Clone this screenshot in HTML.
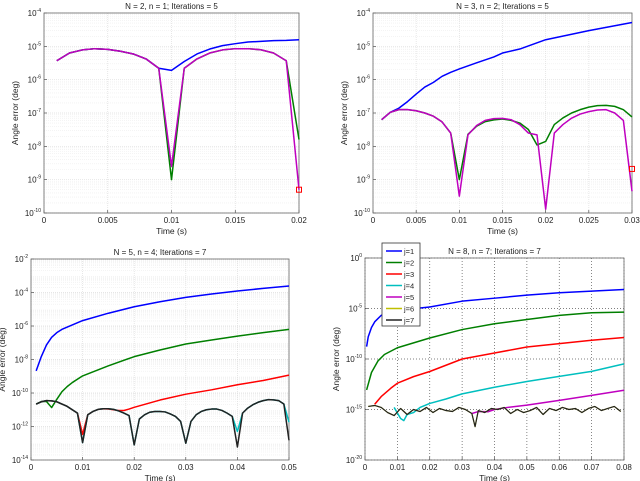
<!DOCTYPE html>
<html><head><meta charset="utf-8">
<style>
html,body{margin:0;padding:0;background:#fff;}
svg{display:block;font-family:"Liberation Sans",sans-serif;}
</style></head>
<body>
<svg id="chart" width="640" height="481" viewBox="0 0 640 481" xmlns="http://www.w3.org/2000/svg"></svg>
<script>
// ---------- Plot 1 data (N=2) ----------
const p1Times = [0.001,0.002,0.003,0.004,0.005,0.006,0.007,0.008,0.009,0.010,0.011,0.012,0.013,0.014,0.015,0.016,0.017,0.018,0.019,0.020];
const p1Blue = [3.7e-6,6.3e-6,7.8e-6,8.5e-6,8.1e-6,7.1e-6,5.9e-6,4.2e-6,2.2e-6,1.9e-6,3.5e-6,5.9e-6,8.3e-6,1.05e-5,1.2e-5,1.35e-5,1.41e-5,1.48e-5,1.51e-5,1.58e-5];
const p1Green = [3.7e-6,6.3e-6,7.8e-6,8.5e-6,8.1e-6,7.1e-6,5.9e-6,4.2e-6,2.2e-6,1.0e-9,2.2e-6,4.2e-6,6.3e-6,7.8e-6,8.5e-6,8.5e-6,7.9e-6,6.3e-6,3.7e-6,1.6e-8];
const p1Magenta = [3.7e-6,6.3e-6,7.8e-6,8.5e-6,8.1e-6,7.1e-6,5.9e-6,4.2e-6,2.2e-6,2.5e-9,2.2e-6,4.2e-6,6.3e-6,7.8e-6,8.5e-6,8.5e-6,7.9e-6,6.3e-6,3.7e-6,5.0e-10];
const p1Marker = [0.02, 5.0e-10];

// ---------- Plot 2 data (N=3) ----------
const p2BlueTimes = [0.001,0.002,0.003,0.004,0.005,0.006,0.007,0.008,0.009,0.010,0.012,0.014,0.015,0.017,0.020,0.025,0.030];
const p2Blue = [6.3e-8,1.05e-7,1.4e-7,2.2e-7,3.7e-7,6.0e-7,8.3e-7,1.26e-6,1.66e-6,2.1e-6,3.2e-6,4.8e-6,6.3e-6,8.3e-6,1.58e-5,2.95e-5,5.2e-5];
const p2Times = [0.001,0.002,0.003,0.004,0.005,0.006,0.007,0.008,0.009,0.010,0.011,0.012,0.013,0.014,0.015,0.016,0.017,0.018,0.019,0.020,0.021,0.022,0.023,0.024,0.025,0.026,0.027,0.028,0.029,0.030];
const p2Green = [6.3e-8,1.05e-7,1.26e-7,1.26e-7,1.17e-7,1.0e-7,8.0e-8,5.4e-8,2.5e-8,1.0e-9,2.3e-8,4.0e-8,5.5e-8,6.2e-8,6.6e-8,6.0e-8,5.0e-8,3.2e-8,1.1e-8,1.4e-8,4.5e-8,7.1e-8,1.0e-7,1.26e-7,1.5e-7,1.66e-7,1.7e-7,1.58e-7,1.26e-7,7.6e-8];
const p2Magenta = [6.3e-8,1.05e-7,1.26e-7,1.26e-7,1.17e-7,1.0e-7,8.0e-8,5.4e-8,2.5e-8,3.2e-10,2.2e-8,4.2e-8,6.0e-8,6.8e-8,6.9e-8,6.3e-8,4.5e-8,2.5e-8,2.2e-8,1.3e-10,2.5e-8,4.5e-8,7.0e-8,9.3e-8,1.1e-7,1.23e-7,1.26e-7,1.0e-7,6.0e-8,4.5e-10];
const p2Marker = [0.03, 2.1e-9];

// ---------- Plot 3 data (N=5) ----------
const p3BlueTimes = [0.001,0.002,0.003,0.004,0.005,0.006,0.008,0.010,0.015,0.020,0.025,0.030,0.035,0.040,0.045,0.050];
const p3Blue = [2.1e-9,1.5e-8,7.4e-8,2.1e-7,4.0e-7,6.3e-7,1.15e-6,2.1e-6,5.8e-6,1.41e-5,2.8e-5,5.1e-5,8.1e-5,1.22e-4,1.77e-4,2.45e-4];
const p3GreenTimes = [0.001,0.002,0.003,0.004,0.005,0.006,0.007,0.008,0.010,0.015,0.020,0.025,0.030,0.035,0.040,0.045,0.050];
const p3Green = [2.2e-11,3.1e-11,3.1e-11,1.35e-11,4.2e-11,1.2e-10,2.4e-10,4.2e-10,1.05e-9,4.2e-9,1.48e-8,3.7e-8,8.4e-8,1.46e-7,2.5e-7,4.0e-7,6.3e-7];
const p3Times = [0.001,0.002,0.003,0.004,0.005,0.006,0.007,0.008,0.009,0.010,0.011,0.012,0.013,0.014,0.015,0.016,0.017,0.018,0.019,0.020,0.021,0.022,0.023,0.024,0.025,0.026,0.027,0.028,0.029,0.030,0.031,0.032,0.033,0.034,0.035,0.036,0.037,0.038,0.039,0.040,0.041,0.042,0.043,0.044,0.045,0.046,0.047,0.048,0.049,0.050];
const p3Black = [2.2e-11,3.0e-11,3.5e-11,3.4e-11,3.0e-11,2.2e-11,1.6e-11,1.0e-11,6.3e-12,1.1e-13,5.0e-12,7.9e-12,1.05e-11,1.15e-11,1.15e-11,1.05e-11,8.5e-12,6.3e-12,4.5e-12,8.0e-14,2.8e-12,5.0e-12,7.1e-12,7.9e-12,7.9e-12,7.4e-12,5.6e-12,4.0e-12,2.0e-12,1.0e-13,2.0e-12,5.0e-12,7.9e-12,1.0e-11,1.1e-11,1.1e-11,9.1e-12,6.3e-12,4.0e-12,6.0e-14,6.3e-12,1.26e-11,2.0e-11,2.8e-11,3.5e-11,4.0e-11,3.9e-11,3.5e-11,2.2e-11,1.5e-13];
const p3Cyan = [2.2e-11,3.0e-11,3.5e-11,3.4e-11,3.0e-11,2.2e-11,1.6e-11,1.0e-11,6.3e-12,1.1e-13,5.0e-12,7.9e-12,1.05e-11,1.15e-11,1.15e-11,1.05e-11,8.5e-12,6.3e-12,4.5e-12,8.0e-14,2.8e-12,5.0e-12,7.1e-12,7.9e-12,7.9e-12,7.4e-12,5.6e-12,4.0e-12,2.0e-12,1.0e-13,2.0e-12,5.0e-12,7.9e-12,1.0e-11,1.1e-11,1.1e-11,9.1e-12,6.3e-12,4.0e-12,5.0e-13,6.3e-12,1.26e-11,2.0e-11,2.8e-11,3.5e-11,4.0e-11,3.9e-11,3.5e-11,2.2e-11,1.8e-12];
const p3RedTimes = [0.001,0.002,0.003,0.004,0.005,0.006,0.007,0.008,0.009,0.010,0.011,0.012,0.013,0.014,0.015,0.017,0.018,0.019,0.020,0.025,0.030,0.035,0.040,0.045,0.050];
const p3Red = [2.2e-11,3.0e-11,3.5e-11,3.4e-11,3.0e-11,2.2e-11,1.6e-11,1.0e-11,6.3e-12,3.4e-13,5.0e-12,7.9e-12,1.05e-11,1.15e-11,1.1e-11,9.0e-12,9.0e-12,1.1e-11,1.4e-11,3.8e-11,8.5e-11,1.55e-10,3.1e-10,5.6e-10,1.17e-9];

// ---------- Plot 4 data (N=8) ----------
const p4Labels = ['j=1','j=2','j=3','j=4','j=5','j=6','j=7'];
const p4BlueTimes = [0.0005,0.001,0.002,0.003,0.005,0.010,0.020,0.030,0.040,0.050,0.060,0.070,0.080];
const p4Blue = [1.7e-9,1.6e-8,1.3e-7,4.8e-7,2.1e-6,6.5e-6,1.4e-5,5.3e-5,1.05e-4,2.1e-4,3.6e-4,5.2e-4,7.6e-4];
const p4GreenTimes = [0.0005,0.002,0.004,0.006,0.010,0.020,0.030,0.040,0.050,0.060,0.070,0.080];
const p4Green = [8.7e-14,4.6e-12,6.4e-11,2.8e-10,1.3e-9,1.2e-8,8.2e-8,3.1e-7,8.2e-7,2.1e-6,3.8e-6,4.4e-6];
const p4RedTimes = [0.003,0.005,0.008,0.010,0.015,0.020,0.030,0.040,0.050,0.060,0.070,0.080];
const p4Red = [3.3e-15,1.9e-14,1.3e-13,4.0e-13,1.8e-12,5.8e-12,1.0e-10,3.9e-10,1.55e-9,3.3e-9,7.1e-9,1.35e-8];
const p4CyanTimes = [0.009,0.011,0.012,0.013,0.015,0.017,0.020,0.025,0.030,0.040,0.050,0.060,0.070,0.080];
const p4Cyan = [1.6e-15,1.3e-16,8.0e-17,3.2e-16,5.0e-16,1.6e-15,4.0e-15,1.1e-14,3.5e-14,1.6e-13,5.9e-13,1.9e-12,6.0e-12,3.3e-11];
const p4MagentaTimes = [0.033,0.035,0.038,0.040,0.044,0.050,0.060,0.070,0.080];
const p4Magenta = [4.0e-16,6.3e-16,6.0e-16,1.0e-15,1.6e-15,2.7e-15,8.0e-15,2.5e-14,8.1e-14];
const p4NoiseTimes = [0.001,0.003,0.005,0.007,0.009,0.011,0.013,0.015,0.017,0.019,0.021,0.023,0.025,0.027,0.029,0.031,0.033,0.034,0.035,0.037,0.039,0.041,0.043,0.045,0.047,0.049,0.051,0.053,0.055,0.057,0.059,0.061,0.063,0.065,0.067,0.069,0.071,0.073,0.075,0.077,0.079];
const p4Black = [2.0e-15,2.5e-15,1.6e-15,5.0e-16,2.5e-16,1.26e-15,3.2e-16,1.0e-15,6.3e-16,1.6e-15,5.0e-16,1.26e-15,7.9e-16,6.3e-16,1.6e-15,1.0e-15,4.0e-16,2.0e-17,7.9e-16,5.0e-16,1.26e-15,1.0e-15,1.6e-15,4.0e-16,1.0e-15,5.0e-16,7.9e-16,1.6e-15,3.2e-16,1.26e-15,7.9e-16,1.6e-15,1.0e-15,1.26e-15,5.0e-16,1.26e-15,2.0e-15,7.9e-16,1.26e-15,2.0e-15,6.3e-16];

const NS = 'http://www.w3.org/2000/svg';
const svg = document.getElementById('chart');
function mk(tag, attrs, parent) {
  const e = document.createElementNS(NS, tag);
  for (const k in attrs) e.setAttribute(k, attrs[k]);
  (parent || svg).appendChild(e);
  return e;
}
function makeAxes(cfg) {
  const g = mk('g', {});
  
  
  const xs = v => cfg.x0 + (v - cfg.xmin) / (cfg.xmax - cfg.xmin) * (cfg.x1 - cfg.x0);
  const ys = v => cfg.y1 - (Math.log10(v) - cfg.emin) / (cfg.emax - cfg.emin) * (cfg.y1 - cfg.y0);
  mk('rect', {x: cfg.x0, y: cfg.y0, width: cfg.x1 - cfg.x0, height: cfg.y1 - cfg.y0, fill: '#fff'}, g);
  const grid = mk('g', {}, g);
  
  
  const gc = cfg.dark ? '#555' : '#ddd';
  const gd = cfg.dark ? '1,2' : '1,1';
  if (!cfg.dark) {
    for (let e = cfg.emin; e < cfg.emax; e++) for (let m = 2; m < 10; m++) {
      const y = ys(m * Math.pow(10, e));
      mk('line', {x1: cfg.x0, x2: cfg.x1, y1: y, y2: y, stroke: '#eee', 'stroke-width': 0.6, 'stroke-dasharray': '1,1'}, grid);
    }
  }
  for (let e = cfg.emin; e <= cfg.emax; e += cfg.gstep) {
    const y = ys(Math.pow(10, e));
    mk('line', {x1: cfg.x0, x2: cfg.x1, y1: y, y2: y, stroke: gc, 'stroke-width': 0.7, 'stroke-dasharray': gd}, grid);
  }
  cfg.xticks.forEach(t => {
    const x = xs(t);
    mk('line', {x1: x, x2: x, y1: cfg.y0, y2: cfg.y1, stroke: gc, 'stroke-width': 0.7, 'stroke-dasharray': gd}, grid);
    mk('line', {x1: x, x2: x, y1: cfg.y1, y2: cfg.y1 - 3, stroke: '#333', 'stroke-width': 0.6}, g);
    const tl = mk('text', {x: x, y: cfg.y1 + 10, 'font-size': 8, 'text-anchor': 'middle', fill: '#222'}, g);
    
    
    tl.textContent = cfg.xlabels[cfg.xticks.indexOf(t)];
  });
  for (let e = cfg.emin; e <= cfg.emax; e += cfg.lstep) {
    const y = ys(Math.pow(10, e));
    mk('line', {x1: cfg.x0, x2: cfg.x0 + 3, y1: y, y2: y, stroke: '#333', 'stroke-width': 0.6}, g);
    const tl = mk('text', {x: cfg.x0 - 3, y: y + 3, 'font-size': 8, 'text-anchor': 'end', fill: '#222'}, g);
    
    
    tl.textContent = '10';
    const sup = mk('tspan', {dy: -4, 'font-size': 5}, tl);
    sup.textContent = String(e);
  }
  mk('rect', {x: cfg.x0, y: cfg.y0, width: cfg.x1 - cfg.x0, height: cfg.y1 - cfg.y0, fill: 'none', stroke: '#666', 'stroke-width': 0.8}, g);
  const title = mk('text', {x: (cfg.x0 + cfg.x1) / 2, y: cfg.y0 - 4, 'font-size': 8, 'text-anchor': 'middle', fill: '#222'}, g);
  
  
  title.textContent = cfg.title;
  const xl = mk('text', {x: (cfg.x0 + cfg.x1) / 2, y: cfg.y1 + 21, 'font-size': 8.5, 'text-anchor': 'middle', fill: '#222'}, g);
  
  
  xl.textContent = 'Time (s)';
  const ylx = cfg.x0 - cfg.ylOff, yly = (cfg.y0 + cfg.y1) / 2;
  const yl = mk('text', {x: ylx, y: yly, 'font-size': 8.5, 'text-anchor': 'middle', fill: '#222', transform: 'rotate(-90 ' + ylx + ' ' + yly + ')'}, g);
  
  
  yl.textContent = 'Angle error (deg)';
  const plot = mk('g', {}, g);
  function line(times, vals, color, name, w) {
    const pts = times.map((t, i) => xs(t).toFixed(2) + ',' + ys(vals[i]).toFixed(2)).join(' ');
    const p = mk('polyline', {points: pts, fill: 'none', stroke: color, 'stroke-width': w || 1.5, 'stroke-linejoin': 'round'}, plot);
    
    
  }
  function marker(pt) {
    const m = mk('rect', {x: xs(pt[0]) - 2.5, y: ys(pt[1]) - 2.5, width: 5, height: 5, fill: 'none', stroke: '#f00', 'stroke-width': 1}, plot);
    
    
  }
  return {line, marker, g};
}
const C = {blue: '#0000ff', green: '#007f00', red: '#ff0000', cyan: '#00bfbf', magenta: '#bf00bf', yellow: '#bfbf00', black: '#222'};

const a1 = makeAxes({name: 'plot-n2', x0: 44, x1: 299, y0: 13, y1: 213, xmin: 0, xmax: 0.02, emin: -10, emax: -4, gstep: 1, lstep: 1,
  xticks: [0, 0.005, 0.01, 0.015, 0.02], xlabels: ['0', '0.005', '0.01', '0.015', '0.02'], title: 'N = 2, n = 1; Iterations = 5', ylOff: 26});
a1.line(p1Times, p1Blue, C.blue, 'series-j1');
a1.line(p1Times, p1Green, C.green, 'series-j2');
a1.line(p1Times, p1Magenta, C.magenta, 'series-j3');
a1.marker(p1Marker);

const a2 = makeAxes({name: 'plot-n3', x0: 373, x1: 632, y0: 13, y1: 213, xmin: 0, xmax: 0.03, emin: -10, emax: -4, gstep: 1, lstep: 1,
  xticks: [0, 0.005, 0.01, 0.015, 0.02, 0.025, 0.03], xlabels: ['0', '0.005', '0.01', '0.015', '0.02', '0.025', '0.03'], title: 'N = 3, n = 2; Iterations = 5', ylOff: 26});
a2.line(p2BlueTimes, p2Blue, C.blue, 'series-j1');
a2.line(p2Times, p2Green, C.green, 'series-j2');
a2.line(p2Times, p2Magenta, C.magenta, 'series-j3');
a2.marker(p2Marker);

const a3 = makeAxes({name: 'plot-n5', x0: 31, x1: 289, y0: 259, y1: 460, xmin: 0, xmax: 0.05, emin: -14, emax: -2, gstep: 2, lstep: 2,
  xticks: [0, 0.01, 0.02, 0.03, 0.04, 0.05], xlabels: ['0', '0.01', '0.02', '0.03', '0.04', '0.05'], title: 'N = 5, n = 4; Iterations = 7', ylOff: 26});
a3.line(p3BlueTimes, p3Blue, C.blue, 'series-j1');
a3.line(p3GreenTimes, p3Green, C.green, 'series-j2');
a3.line(p3RedTimes, p3Red, C.red, 'series-j3');
a3.line(p3Times, p3Cyan, C.cyan, 'series-j4');
a3.line(p3Times, p3Black, C.black, 'series-j5');

const a4 = makeAxes({name: 'plot-n8', x0: 365, x1: 624, y0: 258, y1: 460, xmin: 0, xmax: 0.08, emin: -20, emax: 0, gstep: 5, lstep: 5, dark: true,
  xticks: [0, 0.01, 0.02, 0.03, 0.04, 0.05, 0.06, 0.07, 0.08], xlabels: ['0', '0.01', '0.02', '0.03', '0.04', '0.05', '0.06', '0.07', '0.08'], title: 'N = 8, n = 7; Iterations = 7', ylOff: 26});
a4.line(p4BlueTimes, p4Blue, C.blue, 'series-j1');
a4.line(p4GreenTimes, p4Green, C.green, 'series-j2');
a4.line(p4RedTimes, p4Red, C.red, 'series-j3');
a4.line(p4CyanTimes, p4Cyan, C.cyan, 'series-j4');
a4.line(p4MagentaTimes, p4Magenta, C.magenta, 'series-j5');
a4.line(p4NoiseTimes, p4Black, C.yellow, 'series-j6', 1.2);
a4.line(p4NoiseTimes, p4Black, C.black, 'series-j7', 1.2);

// legend
const lg = mk('g', {});


mk('rect', {x: 382, y: 243, width: 38, height: 83, fill: '#fff', stroke: '#333', 'stroke-width': 0.8}, lg);
const legColors = [C.blue, C.green, C.red, C.cyan, C.magenta, C.yellow, C.black];
p4Labels.forEach((lab, i) => {
  const y = 251 + i * 11.5;
  const e = mk('g', {}, lg);
  
  
  mk('line', {x1: 386, x2: 402, y1: y, y2: y, stroke: legColors[i], 'stroke-width': 1.5}, e);
  const t = mk('text', {x: 404, y: y + 3, 'font-size': 7.5, fill: '#222'}, e);
  t.textContent = lab;
});
</script>
</body></html>
